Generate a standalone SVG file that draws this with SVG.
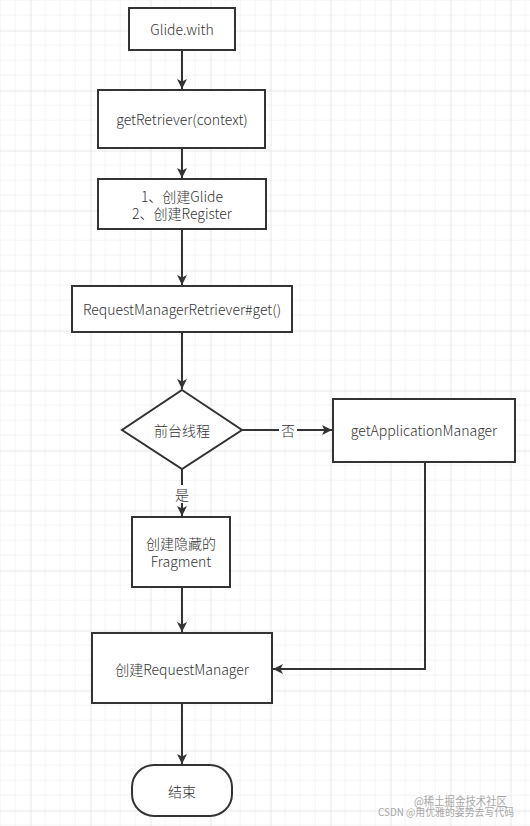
<svg xmlns="http://www.w3.org/2000/svg" width="530" height="826" viewBox="0 0 530 826">
<defs>
<pattern id="minor" x="0.7" y="0.7" width="15" height="15" patternUnits="userSpaceOnUse">
<path d="M15 0 V15 M0 15 H15" fill="none" stroke="#ebebeb" stroke-width="1"/>
</pattern>
<pattern id="major" x="30.7" y="30.7" width="60" height="60" patternUnits="userSpaceOnUse">
<path d="M0 0 V60 M0 0 H60" fill="none" stroke="#dedede" stroke-width="1"/>
</pattern>
<marker id="arr" viewBox="0 0 10 10" refX="10" refY="5" markerWidth="10" markerHeight="10" markerUnits="userSpaceOnUse" orient="auto">
<path d="M0 0 L10 5 L0 10 L2.5 5 Z" fill="#333"/>
</marker>
</defs>
<style>
.n{fill:#fff;stroke:#333;stroke-width:2}
.t{font-family:"Noto Sans CJK SC","Noto Sans",sans-serif;font-size:14px;font-weight:300;fill:#333;text-anchor:middle;dominant-baseline:central}
.c{fill:none;stroke:#333;stroke-width:2}
.w{font-family:"Noto Sans CJK SC","Noto Sans",sans-serif;fill:#999;opacity:0.85}
</style>
<rect width="530" height="826" fill="#fff"/>
<rect width="530" height="826" fill="url(#minor)"/>
<rect width="530" height="826" fill="url(#major)"/>
<g id="connectors">
<path class="c" d="M182 50 V89" marker-end="url(#arr)"/>
<path class="c" d="M182 148 V178" marker-end="url(#arr)"/>
<path class="c" d="M182 229 V285" marker-end="url(#arr)"/>
<path class="c" d="M182 332 V389" marker-end="url(#arr)"/>
<path class="c" d="M182 469 V516" marker-end="url(#arr)"/>
<path class="c" d="M182 587 V632" marker-end="url(#arr)"/>
<path class="c" d="M182 703 V764" marker-end="url(#arr)"/>
<path class="c" d="M242 430 H332" marker-end="url(#arr)"/>
<path class="c" d="M425 462 V669 H273" marker-end="url(#arr)"/>
<rect x="279" y="421" width="18" height="18" fill="#fff"/>
<text class="t" x="288" y="430">否</text>
<rect x="173" y="485" width="18" height="18" fill="#fff"/>
<text class="t" x="182" y="494">是</text>
</g>
<g id="glide-with">
<rect class="n" x="129" y="8" width="106" height="42"/>
<text class="t" x="182" y="29">Glide.with</text>
</g>
<g id="get-retriever">
<rect class="n" x="98" y="90" width="167" height="58"/>
<text class="t" x="182" y="119">getRetriever(context)</text>
</g>
<g id="create-glide">
<rect class="n" x="98" y="179" width="168" height="50"/>
<text class="t" x="182" y="196">1、创建Glide</text>
<text class="t" x="182" y="213">2、创建Register</text>
</g>
<g id="rmr-get">
<rect class="n" x="72" y="286" width="220" height="46"/>
<text class="t" x="182" y="309">RequestManagerRetriever#get()</text>
</g>
<g id="foreground">
<path class="n" d="M182 390 L242 430 L182 469 L122 430 Z"/>
<text class="t" x="182" y="430">前台线程</text>
</g>
<g id="get-app-manager">
<rect class="n" x="333" y="399" width="182" height="63"/>
<text class="t" x="424" y="430">getApplicationManager</text>
</g>
<g id="hidden-fragment">
<rect class="n" x="132" y="517" width="98" height="70"/>
<text class="t" x="181" y="543">创建隐藏的</text>
<text class="t" x="181" y="561">Fragment</text>
</g>
<g id="create-rm">
<rect class="n" x="92" y="633" width="180" height="70"/>
<text class="t" x="182" y="669">创建RequestManager</text>
</g>
<g id="end">
<rect class="n" x="132" y="765" width="100" height="51" rx="22" ry="22"/>
<text class="t" x="182" y="791">结束</text>
</g>
<text class="w" x="414" y="806" font-size="12" textLength="93" lengthAdjust="spacingAndGlyphs">@稀土掘金技术社区</text>
<text class="w" x="378" y="816" font-size="10.5" textLength="136" lengthAdjust="spacingAndGlyphs">CSDN @用优雅的姿势去写代码</text>
</svg>
